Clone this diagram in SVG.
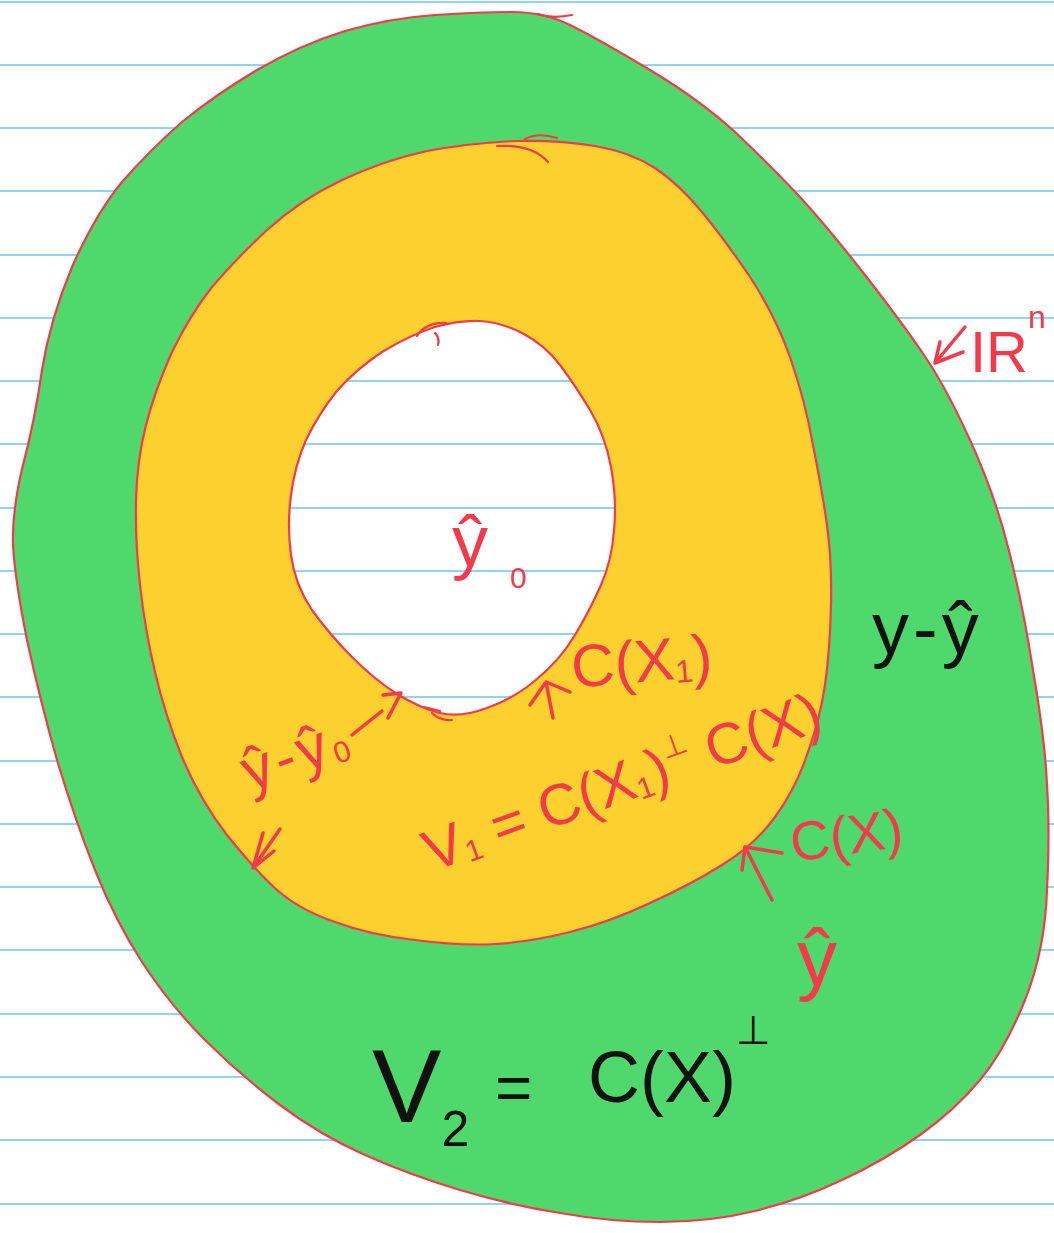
<svg xmlns="http://www.w3.org/2000/svg" width="1054" height="1233" viewBox="0 0 1054 1233">
<style>
.rule{stroke:#8fd4f6;stroke-width:2}
.edge{stroke:#f23a4b;stroke-width:2.2;stroke-linejoin:round;stroke-linecap:round}
.ink{fill:none;stroke:#f23a4b;stroke-width:3.5;stroke-linecap:round;stroke-linejoin:round}
.red{fill:#f23a4b;font-family:"Liberation Sans","DejaVu Sans",sans-serif}
.blk{fill:#111;font-family:"Liberation Sans","DejaVu Sans",sans-serif}
</style>
<defs>
<path id="hole" d="M435,327 Q460,320 480,321 Q500,322 522,333 Q545,345 560,365 Q575,385 590,410 Q605,435 611,467 Q617,500 614,530 Q612,560 601,585 Q590,610 575,635 Q560,660 537,679 Q515,698 487,708 Q460,718 440,713 Q420,708 397,694 Q375,680 352,657 Q330,635 312,610 Q295,585 291,555 Q287,525 291,495 Q295,465 306,440 Q318,415 336,392 Q355,370 382,352 Q410,335 435,327 Z"/>
<clipPath id="outside-hole"><path clip-rule="evenodd" d="M0,0 H1054 V1233 H0 Z M435,327 Q460,320 480,321 Q500,322 522,333 Q545,345 560,365 Q575,385 590,410 Q605,435 611,467 Q617,500 614,530 Q612,560 601,585 Q590,610 575,635 Q560,660 537,679 Q515,698 487,708 Q460,718 440,713 Q420,708 397,694 Q375,680 352,657 Q330,635 312,610 Q295,585 291,555 Q287,525 291,495 Q295,465 306,440 Q318,415 336,392 Q355,370 382,352 Q410,335 435,327 Z"/></clipPath>
</defs>
<rect width="1054" height="1233" fill="#fff"/>
<g id="ruled-lines">
<line class="rule" x1="0" y1="2" x2="1054" y2="2"/>
<line class="rule" x1="0" y1="65" x2="1054" y2="65"/>
<line class="rule" x1="0" y1="128" x2="1054" y2="128"/>
<line class="rule" x1="0" y1="191" x2="1054" y2="191"/>
<line class="rule" x1="0" y1="255" x2="1054" y2="255"/>
<line class="rule" x1="0" y1="318" x2="1054" y2="318"/>
<line class="rule" x1="0" y1="381" x2="1054" y2="381"/>
<line class="rule" x1="0" y1="444" x2="1054" y2="444"/>
<line class="rule" x1="0" y1="508" x2="1054" y2="508"/>
<line class="rule" x1="0" y1="571" x2="1054" y2="571"/>
<line class="rule" x1="0" y1="634" x2="1054" y2="634"/>
<line class="rule" x1="0" y1="697" x2="1054" y2="697"/>
<line class="rule" x1="0" y1="761" x2="1054" y2="761"/>
<line class="rule" x1="0" y1="824" x2="1054" y2="824"/>
<line class="rule" x1="0" y1="887" x2="1054" y2="887"/>
<line class="rule" x1="0" y1="950" x2="1054" y2="950"/>
<line class="rule" x1="0" y1="1014" x2="1054" y2="1014"/>
<line class="rule" x1="0" y1="1077" x2="1054" y2="1077"/>
<line class="rule" x1="0" y1="1140" x2="1054" y2="1140"/>
<line class="rule" x1="0" y1="1204" x2="1054" y2="1204"/>
</g>
<g id="region-v2">
<path class="edge" fill="#4fd96c" clip-path="url(#outside-hole)" d="M512,12 Q545,12 572,26 Q600,40 650,70 Q700,100 735,132 Q770,165 800,197 Q830,230 865,275 Q900,320 922,352 Q945,385 970,440 Q995,495 1008,547 Q1022,600 1033,670 Q1045,740 1047,785 Q1050,830 1047,890 Q1045,950 1025,1000 Q1005,1050 980,1080 Q955,1110 920,1135 Q885,1160 842,1180 Q800,1200 755,1211 Q710,1222 660,1222 Q610,1222 560,1213 Q510,1205 460,1190 Q410,1175 365,1155 Q320,1135 280,1105 Q240,1075 205,1040 Q170,1005 142,962 Q115,920 95,870 Q75,820 57,760 Q40,700 27,640 Q15,580 13,545 Q12,510 23,465 Q35,420 42,370 Q50,320 72,267 Q95,215 122,182 Q150,150 182,122 Q215,95 257,70 Q300,45 345,31 Q390,18 435,15 Q480,12 512,12 Z"/>
<path class="edge" fill="none" d="M538,14 Q552,19 572,15"/>
</g>
<g id="region-v1">
<path class="edge" fill="#fcd02e" clip-path="url(#outside-hole)" d="M427,151 Q470,143 515,141 Q560,140 595,146 Q630,152 655,168 Q680,185 702,212 Q725,240 750,277 Q775,315 790,357 Q805,400 813,445 Q822,490 827,525 Q832,560 831,605 Q830,650 825,685 Q820,720 807,755 Q795,790 775,817 Q755,845 722,865 Q690,885 650,903 Q610,922 570,932 Q530,942 495,944 Q460,946 415,940 Q370,935 335,922 Q300,910 277,890 Q255,870 227,835 Q200,800 182,757 Q165,715 155,672 Q145,630 140,585 Q135,540 136,500 Q137,460 146,425 Q155,390 172,352 Q190,315 212,287 Q235,260 267,230 Q300,200 342,180 Q385,160 427,151 Z"/>
<use href="#hole" fill="none" class="edge"/>
<path class="edge" fill="none" d="M497,146 Q532,144 548,162 M525,139 Q538,132 557,138"/>
</g>
<g id="hole-marks">
<path class="edge" fill="none" d="M417,336 Q426,322 446,323 M435,333 Q440,338 438,345 M424,707 L440,711 M432,713 Q440,721 452,720"/>
</g>
<g id="connectors">
<path class="ink" d="M546,682 L553,718 M546,682 L530,705 M546,682 L570,692"/>
<path class="ink" d="M745,847 L772,900 M745,847 L742,870 M745,847 L782,853"/>
<path class="ink" d="M935,363 L965,327 M935,363 L940,342 M935,363 L963,352"/>
<path class="ink" d="M352,735 L382,711 M383,695 L401,693 L388,718"/>
<path class="ink" d="M280,829 L253,868 L263,833 M253,868 L274,851"/>
</g>
<g id="labels">
<text class="red" x="452" y="566" font-size="72">ŷ<tspan x="510" y="588" font-size="30">0</tspan></text>
<text class="red" x="573" y="688" font-size="60" transform="rotate(-5 573 688)">C(X<tspan font-size="32" dy="4">1</tspan><tspan dy="-4">)</tspan></text>
<text class="red" x="432" y="872" font-size="58" transform="rotate(-20 432 872)">V<tspan font-size="30" dy="4">1</tspan><tspan dy="-4"> = C(X</tspan><tspan font-size="30" dy="4">1</tspan><tspan dy="-4">)</tspan><tspan font-size="30" dy="-26">⊥</tspan><tspan dy="26"> C(X)</tspan></text>
<text class="red" x="793" y="862" font-size="55" transform="rotate(-8 793 862)">C(X)</text>
<text class="red" x="797" y="985" font-size="80">ŷ</text>
<text class="red" x="250" y="792" font-size="60" letter-spacing="4" transform="rotate(-20 250 792)">ŷ-ŷ<tspan font-size="30" dy="4">0</tspan></text>
<text class="red" x="970" y="372" font-size="58">IR<tspan font-size="32" dy="-44">n</tspan></text>
<text class="blk" x="872" y="654" font-size="74" letter-spacing="4">y-ŷ</text>
<text class="blk" x="372" y="1122" font-size="104">V<tspan font-size="50" dy="24">2</tspan></text>
<text class="blk" x="495" y="1110" font-size="64">=</text>
<text class="blk" x="588" y="1102" font-size="72">C(X)<tspan font-size="40" dy="-58">⊥</tspan></text>
</g>
</svg>
